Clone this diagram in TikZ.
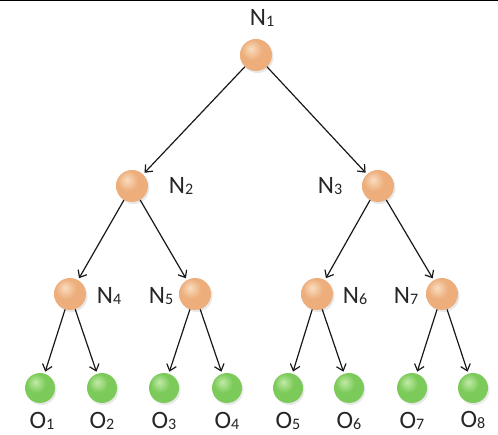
\documentclass[tikz,border=0pt]{standalone}
\usepackage{fontspec}
\setmainfont{Carlito}
\usetikzlibrary{arrows.meta,shadows}
\definecolor{orhl}{HTML}{F9DDBF}
\definecolor{ormain}{HTML}{EDAE7C}
\definecolor{oredge}{HTML}{D08A55}
\definecolor{grhl}{HTML}{C2EAA8}
\definecolor{grmain}{HTML}{7CCB5A}
\definecolor{gredge}{HTML}{52A034}
\pgfdeclareradialshading{orball}{\pgfpoint{-8bp}{10bp}}{color(0bp)=(orhl); color(16bp)=(ormain); color(42bp)=(ormain); color(62bp)=(oredge); color(80bp)=(oredge)}
\pgfdeclareradialshading{grball}{\pgfpoint{-8bp}{10bp}}{color(0bp)=(grhl); color(16bp)=(grmain); color(42bp)=(grmain); color(62bp)=(gredge); color(80bp)=(gredge)}
\newcommand{\lab}[2]{#1\raisebox{-0.5pt}{\fontsize{16}{16}\selectfont #2}}
\tikzset{
  inner/.style={circle,minimum size=32pt,inner sep=0pt,shading=orball,
    drop shadow={opacity=0.18,shadow xshift=1.5pt,shadow yshift=-2pt}},
  leaf/.style={circle,minimum size=30pt,inner sep=0pt,shading=grball,
    drop shadow={opacity=0.18,shadow xshift=1.5pt,shadow yshift=-2pt}},
  lbl/.style={font=\fontsize{25}{25}\selectfont,text=black!85,inner sep=0pt},
  edge/.style={draw=black!90,line width=1.2pt,-{Straight Barb[length=6pt,width=10pt,line width=1.2pt]},shorten >=2pt,shorten <=0pt}
}
\begin{document}
\begin{tikzpicture}[x=1pt,y=-1pt]
\useasboundingbox (0,0) rectangle (498,435);
\fill[white] (0,0) rectangle (498,435);
\draw[line width=1.2pt] (0,0.6) -- (498,0.6);
\node[inner] (n1) at (256,55) {};
\node[inner] (n2) at (132,186) {};
\node[inner] (n3) at (378,186) {};
\node[inner] (n4) at (70,294) {};
\node[inner] (n5) at (195,294) {};
\node[inner] (n6) at (317,294) {};
\node[inner] (n7) at (442,294) {};
\node[leaf] (o1) at (40,388) {};
\node[leaf] (o2) at (102,388) {};
\node[leaf] (o3) at (164,388) {};
\node[leaf] (o4) at (227,388) {};
\node[leaf] (o5) at (288,388) {};
\node[leaf] (o6) at (349,388) {};
\node[leaf] (o7) at (412,388) {};
\node[leaf] (o8) at (473,388) {};
\node[lbl] (l1) at (262,18) {\lab{N}{1}};
\node[lbl] (l2) at (181,186) {\lab{N}{2}};
\node[lbl] (l3) at (330,186) {\lab{N}{3}};
\node[lbl] (l4) at (109,296) {\lab{N}{4}};
\node[lbl] (l5) at (161,296) {\lab{N}{5}};
\node[lbl] (l6) at (355,296) {\lab{N}{6}};
\node[lbl] (l7) at (406,296) {\lab{N}{7}};
\node[lbl] (m1) at (42,421) {\lab{O}{1}};
\node[lbl] (m2) at (102,421) {\lab{O}{2}};
\node[lbl] (m3) at (164,421) {\lab{O}{3}};
\node[lbl] (m4) at (227,421) {\lab{O}{4}};
\node[lbl] (m5) at (288,421) {\lab{O}{5}};
\node[lbl] (m6) at (349,421) {\lab{O}{6}};
\node[lbl] (m7) at (412,421) {\lab{O}{7}};
\node[lbl] (m8) at (473,420) {\lab{O}{8}};
\draw[edge] (n1) -- (n2);
\draw[edge] (n1) -- (n3);
\draw[edge] (n2) -- (n4);
\draw[edge] (n2) -- (n5);
\draw[edge] (n3) -- (n6);
\draw[edge] (n3) -- (n7);
\draw[edge] (n4) -- (o1);
\draw[edge] (n4) -- (o2);
\draw[edge] (n5) -- (o3);
\draw[edge] (n5) -- (o4);
\draw[edge] (n6) -- (o5);
\draw[edge] (n6) -- (o6);
\draw[edge] (n7) -- (o7);
\draw[edge] (n7) -- (o8);
\end{tikzpicture}
\end{document}
